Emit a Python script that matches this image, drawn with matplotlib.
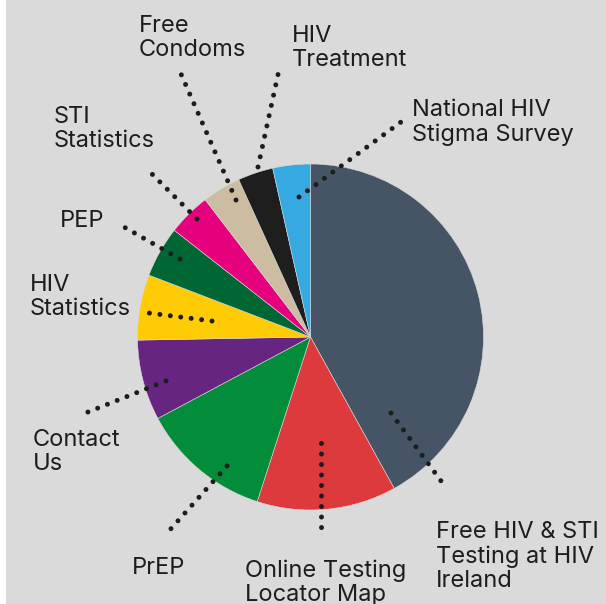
import matplotlib.pyplot as plt
from matplotlib.patches import Rectangle

# slice shares (percent), clockwise from 12 o'clock
categories = ['Free HIV & STI\nTesting at HIV\nIreland', 'Online Testing\nLocator Map', 'PrEP',
              'Contact\nUs', 'HIV\nStatistics', 'PEP', 'STI\nStatistics', 'Free\nCondoms',
              'HIV\nTreatment', 'National HIV\nStigma Survey']
shares = [41.9, 13.0, 12.2, 7.5, 6.1, 4.75, 4.0, 3.6, 3.3, 3.5]
colors = ['#455565', '#dc3a3c', '#038c3a', '#652581', '#ffcb05', '#006634',
          '#e5007e', '#cbbca2', '#1e1e1e', '#36a9e1']

# label layout in pixel coords (y down): text left x, cap top y, leader from -> to
label_pos = [(436, 522), (245, 560), (132, 558), (33, 430), (30, 275), (60, 211),
             (54, 107), (139, 16), (292, 26), (412, 100)]
leaders = [((391, 413), (444, 485)), ((321, 443), (321, 532)), ((227, 466), (168, 532)),
           ((166, 381), (83, 414)), ((212, 321), (141, 312)), ((180, 259), (117, 223)),
           ((197, 219), (146, 168)), ((236, 200), (181, 74)), ((258, 167), (279, 70)),
           ((299, 197), (401, 122))]

W, H = 606, 604
fig = plt.figure(figsize=(W / 100, H / 100), dpi=100, facecolor='#dadada')
ax = fig.add_axes([0, 0, 1, 1])

# y axis is flipped below (pixel coords), so start at -90 and go "counterclock"
# in data space, which is clockwise from the top on screen
ax.pie(shares, colors=colors, startangle=-90, counterclock=True,
       center=(310.5, 337), radius=173,
       wedgeprops=dict(linewidth=0.4, edgecolor='#dadada'))
ax.set_xlim(0, W)
ax.set_ylim(H, 0)
ax.set_aspect('equal')
ax.axis('off')

for (a, b) in leaders:
    ax.plot([a[0], b[0]], [a[1], b[1]], color='#1d1d1b', lw=3.6,
            linestyle=(0, (0.001, 2.1)), dash_capstyle='round', solid_capstyle='round')

for name, (x, y) in zip(categories, label_pos):
    ax.text(x, y - 1, name, ha='left', va='top', fontsize=17, family='Inter',
            color='#1d1d1b', linespacing=1.13)

# thin white strip on the left edge of the original image
ax.add_patch(Rectangle((0, 0), 6, H, facecolor='white', edgecolor='none', zorder=5))

fig.savefig('out.png', dpi=100, facecolor=fig.get_facecolor())
